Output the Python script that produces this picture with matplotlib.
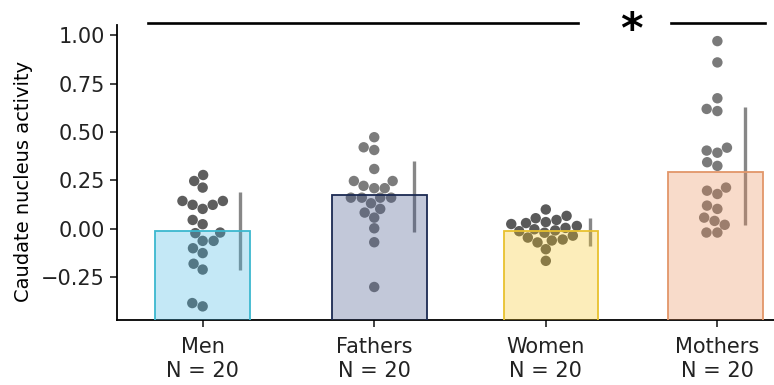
import numpy as np
import pandas as pd
import matplotlib
matplotlib.use("Agg")
import matplotlib.pyplot as plt
import seaborn as sns
from matplotlib.colors import to_rgba

# groups and per-subject values
groups = ["Men", "Fathers", "Women", "Mothers"]
n_labels = ["N = 20", "N = 20", "N = 20", "N = 20"]

men = [0.278, 0.247, 0.213, 0.144, 0.124, 0.103, 0.124, 0.144, 0.046, 0.024,
       -0.022, -0.019, -0.062, -0.062, -0.10, -0.125, -0.18, -0.21, -0.40, -0.383]
fathers = [0.473, 0.407, 0.421, 0.309, 0.247, 0.247, 0.21, 0.21, 0.222, 0.161,
           0.161, 0.161, 0.161, 0.132, 0.103, 0.084, 0.058, 0.003, -0.069, -0.30]
women = [0.10, 0.067, 0.055, 0.046, 0.035, 0.03, 0.025, 0.015, 0.005, -0.002,
         -0.008, -0.012, -0.02, -0.035, -0.045, -0.055, -0.06, -0.07, -0.105, -0.165]
mothers = [0.969, 0.859, 0.674, 0.619, 0.608, 0.404, 0.393, 0.419, 0.344, 0.325,
           0.197, 0.18, 0.213, 0.12, 0.103, 0.058, 0.041, 0.021, -0.019, -0.019]

bar_means = [-0.01, 0.175, -0.01, 0.295]
ci_low = [-0.21, -0.015, -0.09, 0.02]
ci_high = [0.19, 0.35, 0.057, 0.63]

bar_face = ["#3eb6e4", "#374b84", "#f8c61c", "#eb8a52"]
bar_edge = ["#3bb8cf", "#1b2a52", "#e8c12f", "#e29669"]
dot_colors = ["#5e5e5e", "#7c7c7c", "#5a5a5a", "#7a7a7a"]

df = pd.DataFrame({
    "group": np.repeat(groups, 20),
    "value": men + fathers + women + mothers,
})

y_bottom, y_top = -0.47, 1.052

fig = plt.figure(figsize=(7.74, 3.85), dpi=100)
ax = fig.add_axes([0.151, 0.169, 0.849, 0.766])

sns.swarmplot(data=df, x="group", y="value", hue="group", order=groups,
              palette=dict(zip(groups, dot_colors)), size=7.5, linewidth=0,
              legend=False, ax=ax, zorder=2)

# confidence intervals, shifted right of each bar
x = np.arange(len(groups))
ci_shift = [0.215, 0.23, 0.255, 0.16]
ax.vlines(x + np.array(ci_shift), ci_low, ci_high, color="#878787", lw=2.4, zorder=3)

# bars drawn on top with a light fill so dots show through tinted
bar_shift = [0.0, 0.03, 0.03, -0.01]
for i in range(len(groups)):
    ax.bar(i + bar_shift[i], bar_means[i] - (y_bottom - 0.05), bottom=y_bottom - 0.05,
           width=0.55, color=to_rgba(bar_face[i], 0.3), edgecolor=bar_edge[i],
           lw=1.3, zorder=4)

# significance marks
ax.plot([-0.32, 2.19], [1.062, 1.062], color="black", lw=1.9, clip_on=False)
ax.plot([2.73, 3.28], [1.062, 1.062], color="black", lw=1.9, clip_on=False)
ax.text(2.50, 1.02, "*", fontsize=31, fontweight="bold", ha="center", va="center",
        clip_on=False)

ax.set_xlim(-0.5, 3.33)
ax.set_ylim(y_bottom, y_top)
ax.set_xticks(x, [f"{g}\n{n}" for g, n in zip(groups, n_labels)], linespacing=1.3)
ax.set_yticks([-0.25, 0.0, 0.25, 0.5, 0.75, 1.0])
ax.set_xlabel("")
ax.set_ylabel("Caudate nucleus activity", fontsize=14)
ax.yaxis.set_label_coords(-0.128, 0.468)

ax.spines["top"].set_visible(False)
ax.spines["right"].set_visible(False)
ax.spines["left"].set_linewidth(1.3)
ax.spines["bottom"].set_linewidth(1.3)
ax.tick_params(labelsize=15, length=5, width=1.2, colors="#222222")
ax.tick_params(axis="x", pad=7)

fig.savefig("out.png", dpi=100)
